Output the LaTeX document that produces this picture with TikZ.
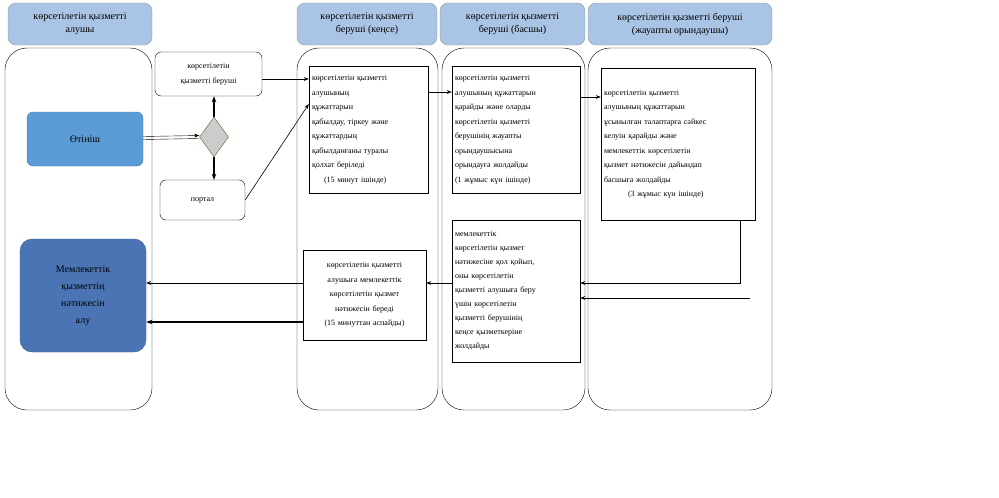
\documentclass[tikz,border=0pt]{standalone}
\usepackage{fontspec}
\setmainfont{Liberation Serif}
\usetikzlibrary{shapes.geometric,arrows.meta}
\definecolor{hdr}{HTML}{A9C4E4}
\definecolor{blu1}{HTML}{5B9BD5}
\definecolor{blu2}{HTML}{4A74B4}
\begin{document}
\begin{tikzpicture}[x=1pt,y=-1pt,
 hdr/.style={draw=black!40,fill=hdr,rounded corners=8pt,align=center,font=\fontsize{10}{13}\selectfont},
 lane/.style={draw=black,rounded corners=22pt},
 box/.style={draw=black,align=left,font=\fontsize{8}{14.5}\selectfont,inner sep=3pt},
 rbox/.style={draw=black,rounded corners=6pt,align=center,font=\fontsize{8}{15}\selectfont},
 ar/.style={-{Stealth[length=5pt]},thin},
 tar/.style={-{Stealth[length=6pt]},line width=1.2pt}]
\useasboundingbox (0,0) rectangle (999,498);
% lanes
\draw[lane] (5,48) rectangle (152,410);
\draw[lane] (297,48) rectangle (438,410);
\draw[lane] (442,48) rectangle (585,410);
\draw[lane] (588,48) rectangle (772,410);
% headers
\node[hdr,minimum width=144,minimum height=42] (h1) at (80,24) {көрсетілетін қызметті\\алушы};
\node[hdr,minimum width=140,minimum height=42] (h2) at (367,24) {көрсетілетін қызметті\\беруші (кеңсе)};
\node[hdr,minimum width=145,minimum height=42] (h3) at (512.5,24) {көрсетілетін қызметті\\беруші (басшы)};
\node[hdr,minimum width=184,minimum height=42] (h4) at (680,24) {көрсетілетін қызметті беруші\\(жауапты орындаушы)};
% nodes
\node[draw=blu1!80!black,fill=blu1,rounded corners=6pt,minimum width=116,minimum height=54,font=\fontsize{10}{12}\selectfont] (app) at (85,139) {Өтініш};
\node[rbox,minimum width=107,minimum height=44] (srv) at (208.5,74) {көрсетілетін\\қызметті беруші};
\node[diamond,draw=olive!60!black,fill=black!20,minimum width=29,minimum height=40,inner sep=0pt] (dia) at (214,137) {};
\node[rbox,minimum width=85,minimum height=40] (por) at (202.5,200) {портал};
\node[box,text width=113,minimum height=127] (k1) at (368.5,129.5) {көрсетілетін қызметті\\алушының\\құжаттарын\\қабылдау, тіркеу және\\құжаттардың\\қабылданғаны туралы\\қолхат беріледі\\\hspace*{12pt}(15 минут ішінде)};
\node[box,text width=122,minimum height=127] (b1) at (516,129.5) {көрсетілетін қызметті\\алушының құжаттарын\\қарайды және оларды\\көрсетілетін қызметті\\берушінің жауапты\\орындаушысына\\орындауға жолдайды\\(1 жұмыс күн ішінде)};
\node[box,text width=148,minimum height=152] (j1) at (678,144) {көрсетілетін қызметті\\алушының құжаттарын\\ұсынылған талаптарға сәйкес\\келуін қарайды және\\мемлекеттік көрсетілетін\\қызмет нәтижесін дайындап\\басшыға жолдайды\\\hspace*{24pt}(3 жұмыс күн ішінде)};
\node[box,text width=122,minimum height=142,font=\fontsize{8}{14}\selectfont] (b2) at (516,291) {мемлекеттік\\көрсетілетін қызмет\\нәтижесіне қол қойып,\\оны көрсетілетін\\қызметті алушыға беру\\үшін көрсетілетін\\қызметті берушінің\\кеңсе қызметкеріне\\жолдайды};
\node[box,align=center,text width=117,minimum height=90] (k2) at (364.5,295) {көрсетілетін қызметті\\алушыға мемлекеттік\\көрсетілетін қызмет\\нәтижесін береді\\(15 минуттан аспайды)};
\node[draw=blu2!80!black,fill=blu2,rounded corners=12pt,minimum width=126,minimum height=113,align=center,font=\fontsize{10}{17}\selectfont] (res) at (83,295.5) {Мемлекеттік\\қызметтің\\нәтижесін\\алу};
% connectors
\draw[thin] ([yshift=-1.5pt]app.east|-0,138) -- ([yshift=-1.5pt]dia.west);
\draw[ar] ([yshift=1.5pt]app.east|-0,138) -- ([yshift=1.5pt]dia.west);
\draw[tar] (dia.north) -- (srv.south-|dia);
\draw[tar] (dia.south) -- (por.north-|dia);
\draw[ar] (srv.east|-0,79) -- (k1.west|-0,79);
\draw[ar,semithick] (por.east) -- (k1.west|-0,104);
\draw[ar] (k1.east|-0,92) -- (b1.west|-0,92);
\draw[ar,semithick] (b1.east|-0,97) -- (j1.west|-0,97);
\coordinate (c1) at (740,283);
\draw[ar] (740,220) -- (c1) -- (b2.east|-c1);
\coordinate (c2) at (750,298);
\draw[ar] (c2) -- (b2.east|-c2);
\draw[ar,semithick] (b2.west|-c1) -- (k2.east|-c1);
\draw[ar] (k2.west|-c1) -- (res.east|-c1);
\draw[tar] (k2.west|-0,322) -- (res.east|-0,322);
\end{tikzpicture}
\end{document}
